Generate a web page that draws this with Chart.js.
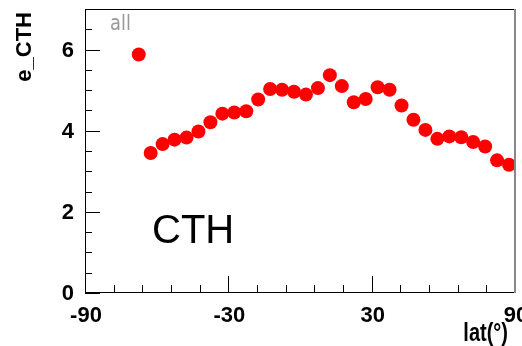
<!DOCTYPE html>
<html>
<head>
<meta charset="utf-8">
<script src="https://cdn.jsdelivr.net/npm/chart.js@4"></script>
<style>
  html, body { margin: 0; padding: 0; background: #fff; overflow: hidden; }
  canvas { display: block; }
</style>
</head>
<body>
<canvas id="graficoCTH" width="522" height="346"></canvas>
<script>
// latitude bins (deg) and e_CTH values
const lat = [-67.5, -62.5, -57.5, -52.5, -47.5, -42.5, -37.5, -32.5, -27.5, -22.5,
             -17.5, -12.5, -7.5, -2.5, 2.5, 7.5, 12.5, 17.5, 22.5, 27.5,
             32.5, 37.5, 42.5, 47.5, 52.5, 57.5, 62.5, 67.5, 72.5, 77.5,
             82.5, 87.5];
const eCTH = [5.88, 3.45, 3.67, 3.78, 3.83, 3.98, 4.21, 4.42, 4.45, 4.48,
              4.77, 5.03, 5.01, 4.96, 4.89, 5.05, 5.37, 5.10, 4.70, 4.78,
              5.07, 5.01, 4.62, 4.27, 4.02, 3.80, 3.86, 3.84, 3.72, 3.61,
              3.27, 3.16];

const xTickLabels = [-90, -30, 30, 90];
const yTickLabels = [0, 2, 4, 6];

const ctx = document.getElementById('graficoCTH');

// ROOT-like frame, inward ticks and texts
const rootFrame = {
  id: 'rootFrame',
  afterDraw(chart) {
    const c = chart.ctx;
    const a = chart.chartArea;
    const xs = chart.scales.x;
    const ys = chart.scales.y;
    c.save();
    c.strokeStyle = '#000';
    c.lineWidth = 1;
    c.strokeRect(a.left + 0.5, a.top + 0.5, a.right - a.left - 1, a.bottom - a.top - 1);

    c.beginPath();
    // x ticks: minor every 12 deg, major every 60
    for (let v = xs.min; v <= xs.max + 0.01; v += 12) {
      const px = Math.round(xs.getPixelForValue(v)) + 0.5;
      const len = xTickLabels.includes(Math.round(v)) ? 17 : 8;
      c.moveTo(px, a.bottom);
      c.lineTo(px, a.bottom - len);
    }
    // y ticks: minor every 0.5, major every 2
    for (let v = ys.min; v <= ys.max + 0.001; v += 0.5) {
      const py = Math.round(ys.getPixelForValue(v)) + 0.5;
      const len = yTickLabels.includes(v) ? 15 : 7;
      c.moveTo(a.left, py);
      c.lineTo(a.left + len, py);
    }
    c.stroke();

    // grey right edge like the original canvas
    c.strokeStyle = '#888';
    c.lineWidth = 2;
    c.beginPath();
    c.moveTo(a.right, a.top);
    c.lineTo(a.right, a.bottom);
    c.stroke();

    c.fillStyle = '#000';
    c.font = 'bold 22px "Liberation Sans", Arial, sans-serif';
    c.textAlign = 'right';
    c.textBaseline = 'middle';
    yTickLabels.forEach(v => c.fillText(String(v), 74, ys.getPixelForValue(v) + 1));
    c.textAlign = 'center';
    xTickLabels.forEach(v => c.fillText(String(v), xs.getPixelForValue(v) + 1, 316));

    // x title
    c.save();
    c.translate(508, 341);
    c.scale(0.8, 1);
    c.textAlign = 'right';
    c.textBaseline = 'alphabetic';
    c.font = 'bold 25px "Liberation Sans", Arial, sans-serif';
    c.fillText('lat(°)', 0, 0);
    c.restore();

    // y title
    c.save();
    c.translate(31, 12);
    c.rotate(-Math.PI / 2);
    c.textAlign = 'right';
    c.textBaseline = 'alphabetic';
    c.font = 'bold 22px "Liberation Sans", Arial, sans-serif';
    c.fillText('e_CTH', 0, 0);
    c.restore();

    c.textAlign = 'left';
    c.textBaseline = 'alphabetic';
    c.fillStyle = '#999';
    c.font = '21px "DejaVu Sans", sans-serif';
    c.save();
    c.translate(110, 30);
    c.scale(0.85, 1);
    c.fillText('all', 0, 0);
    c.restore();

    c.fillStyle = '#000';
    c.font = '40px "Liberation Sans", Arial, sans-serif';
    c.fillText('CTH', 152, 243);
    c.restore();
  }
};

new Chart(ctx, {
  type: 'scatter',
  data: {
    datasets: [{
      label: 'all',
      data: lat.map((x, i) => ({ x: x, y: eCTH[i] })),
      backgroundColor: 'rgb(255, 0, 0)',
      borderColor: 'rgb(255, 0, 0)',
      pointRadius: 7,
      pointBorderWidth: 0,
      clip: 0
    }]
  },
  options: {
    responsive: false,
    animation: false,
    layout: { padding: { left: 85, top: 9, right: 5, bottom: 53 } },
    plugins: {
      legend: { display: false },
      tooltip: { enabled: false }
    },
    scales: {
      x: { type: 'linear', min: -90, max: 90, display: false },
      y: { type: 'linear', min: 0, max: 7, display: false }
    }
  },
  plugins: [rootFrame]
});
</script>
</body>
</html>
